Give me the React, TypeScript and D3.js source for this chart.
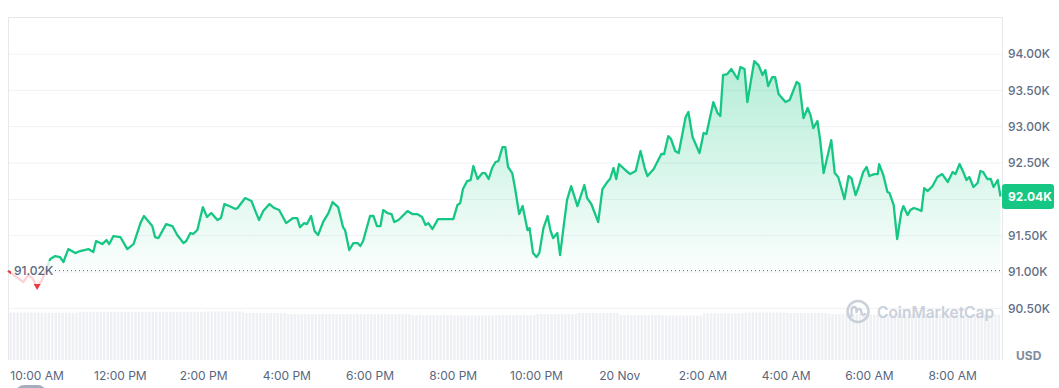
import { useMemo } from "react";
import * as d3 from "d3";

// minutes relative to 10:00 AM, 19 Nov
const minutes = [
  -42, -32, -20, -13, -7, 0, 7, 19, 26, 33,
  38, 40, 45, 55, 62, 74, 81, 85, 94, 100,
  104, 110, 120, 130, 139, 149, 154, 166, 170, 175,
  186, 195, 202, 211, 215, 221, 225, 231, 239, 245,
  251, 260, 265, 270, 277, 286, 289, 300, 309, 317,
  320, 326, 335, 342, 349, 359, 369, 375, 379, 385,
  389, 395, 400, 405, 413, 420, 426, 434, 441, 444,
  450, 456, 462, 466, 470, 480, 485, 490, 495, 499,
  505, 511, 515, 521, 534, 541, 548, 555, 560, 564,
  570, 578, 591, 600, 606, 610, 614, 620, 625, 629,
  635, 642, 646, 651, 656, 661, 665, 671, 675, 679,
  685, 689, 695, 700, 707, 710, 715, 720, 724, 730,
  736, 740, 744, 750, 754, 759, 764, 770, 779, 789,
  793, 799, 809, 815, 822, 826, 831, 835, 839, 848,
  855, 863, 870, 876, 880, 889, 900, 904, 910, 914,
  920, 925, 932, 935, 939, 945, 955, 961, 965, 975,
  981, 985, 989, 995, 1001, 1010, 1014, 1020, 1024, 1034,
  1040, 1046, 1050, 1054, 1060, 1064, 1069, 1079, 1085, 1095,
  1099, 1105, 1111, 1115, 1119, 1125, 1129, 1134, 1145, 1150,
  1155, 1164, 1170, 1174, 1180, 1184, 1191, 1196, 1200, 1207,
  1212, 1214, 1220, 1226, 1229, 1235, 1240, 1246, 1249, 1255,
  1259, 1264, 1269, 1275, 1279, 1284, 1291, 1298, 1305, 1313,
  1320, 1324, 1330, 1336, 1340, 1344, 1350, 1356, 1360, 1364,
  1370, 1375, 1379, 1385, 1389
];

const prices = [
  91020, 90945, 90862, 90959, 90917, 90794, 90890, 91179, 91220, 91206,
  91138, 91193, 91316, 91261, 91289, 91316, 91275, 91427, 91385, 91440,
  91385, 91495, 91482, 91316, 91385, 91674, 91771, 91633, 91482, 91468,
  91660, 91633, 91509, 91399, 91427, 91537, 91523, 91578, 91894, 91757,
  91812, 91716, 91743, 91936, 91908, 91867, 91881, 92018, 91977, 91784,
  91716, 91839, 91936, 91881, 91853, 91674, 91743, 91743, 91619, 91674,
  91660, 91771, 91564, 91509, 91702, 91812, 91963, 91894, 91619, 91578,
  91303, 91399, 91399, 91358, 91427, 91771, 91771, 91633, 91633, 91853,
  91812, 91798, 91688, 91716, 91839, 91798, 91798, 91757, 91647, 91674,
  91592, 91729, 91729, 91729, 91922, 91949, 92142, 92252, 92266, 92459,
  92280, 92362, 92362, 92280, 92431, 92514, 92527, 92720, 92720, 92445,
  92362, 92156, 91798, 91908, 91578, 91605, 91261, 91206, 91261, 91605,
  91771, 91578, 91468, 91537, 91234, 91619, 91991, 92183, 91908, 92197,
  92018, 91936, 91688, 92142, 92238, 92280, 92431, 92280, 92486, 92404,
  92348, 92390, 92665, 92431, 92321, 92417, 92624, 92624, 92871, 92830,
  92665, 92637, 92981, 93133, 93202, 92858, 92637, 92913, 92899, 93339,
  93188, 93147, 93711, 93724, 93793, 93656, 93821, 93793, 93339, 93903,
  93848, 93711, 93780, 93559, 93683, 93683, 93449, 93339, 93367, 93614,
  93587, 93119, 93257, 93160, 92981, 93078, 92816, 92362, 92816, 92362,
  92307, 92004, 92321, 92293, 92060, 92156, 92376, 92445, 92321, 92348,
  92348, 92486, 92335, 92101, 92087, 91922, 91454, 91826, 91908, 91784,
  91853, 91881, 91867, 91839, 92156, 92115, 92183, 92307, 92348, 92238,
  92376, 92348, 92486, 92362, 92266, 92307, 92170, 92225, 92390, 92376,
  92280, 92280, 92170, 92266, 92040
];

// hourly volume buckets (B USD), starting 9:00 AM 19 Nov
const hourlyVolume = [
  95.0, 94.6, 96.0, 96.0, 96.0, 97.0, 94.0, 92.0, 92.0, 92.0,
  90.0, 89.0, 90.0, 92.0, 94.0, 90.0, 89.0, 93.4, 95.0, 94.0,
  92.0, 91.0, 91.0, 91.0, 91.0
];

const priceTicks = [90500, 91000, 91500, 92000, 92500, 93000, 93500, 94000];
const openPrice = 91020;
const lastPrice = 92040;

const W = 1059;
const H = 388;
const left = 8;
const right = 1002;
const top = 17;
const bottom = 360;
const GREEN = "#16c784";
const RED = "#ea3943";
const FONT = "Inter, 'Noto Sans', sans-serif";

const base = new Date(2024, 10, 19, 10, 0, 0);

interface Pt {
  t: Date;
  p: number;
}

const fmtK = (v: number) => `${(v / 1000).toFixed(2)}K`;

export default function App() {
  const points: Pt[] = useMemo(
    () => minutes.map((m, i) => ({ t: d3.timeMinute.offset(base, m), p: prices[i] })),
    []
  );

  const x = d3
    .scaleTime()
    .domain(d3.extent(points, (d) => d.t) as [Date, Date])
    .range([8, 1000.5]);
  const y = d3.scaleLinear().domain([90500, 94000]).range([308.4, 54]);
  const vy = d3.scaleLinear().domain([0, 100]).range([bottom, 310]);

  const baseY = y(openPrice);
  const lastY = y(lastPrice);
  const line = d3
    .line<Pt>()
    .x((d) => x(d.t))
    .y((d) => y(d.p));
  const area = d3
    .area<Pt>()
    .x((d) => x(d.t))
    .y0(baseY)
    .y1((d) => y(d.p));

  const maxP = d3.max(points, (d) => d.p) ?? 0;
  const low = points.reduce((a, b) => (b.p < a.p ? b : a));

  // volume bars, one per 5 minutes, taking the value of the hour bucket
  const [t0, t1] = x.domain();
  const volStart = new Date(2024, 10, 19, 9, 0, 0);
  const slots = d3.timeMinute.every(5)!.range(t0, t1);
  const bars = slots.map((s) => {
    const hour = Math.floor((+s - +volStart) / 3600000);
    const v = hourlyVolume[Math.min(hour, hourlyVolume.length - 1)];
    const x0 = x(s);
    const x1 = Math.min(x(d3.timeMinute.offset(s, 5)), 1001);
    return { x0, w: Math.max(0.5, x1 - x0 - 1), v };
  });

  const xTicks = d3.timeHour.every(2)!.range(t0, t1);
  const fmtTime = d3.timeFormat("%-I:%M %p");
  const tickLabel = (d: Date) => (d.getHours() === 0 ? d3.timeFormat("%-d %b")(d) : fmtTime(d));

  // the last-price badge hides the tick label it sits on
  const shownTicks = priceTicks.filter((v) => Math.abs(y(v) - lastY) > 14);

  return (
    <svg
      width={W}
      height={H}
      style={{ position: "absolute", left: 0, top: 0, background: "#fff" }}
      fontFamily={FONT}
    >
      <defs>
        <linearGradient id="gUp" gradientUnits="userSpaceOnUse" x1="0" x2="0" y1={y(maxP)} y2={baseY}>
          <stop offset="0" stopColor={GREEN} stopOpacity={0.32} />
          <stop offset="1" stopColor={GREEN} stopOpacity={0.02} />
        </linearGradient>
        <linearGradient id="gDown" gradientUnits="userSpaceOnUse" x1="0" x2="0" y1={baseY} y2={y(low.p)}>
          <stop offset="0" stopColor={RED} stopOpacity={0.02} />
          <stop offset="1" stopColor={RED} stopOpacity={0.2} />
        </linearGradient>
        <clipPath id="cUp">
          <rect x={0} y={0} width={W} height={baseY} />
        </clipPath>
        <clipPath id="cDown">
          <rect x={0} y={baseY} width={W} height={H - baseY} />
        </clipPath>
      </defs>

      {/* volume */}
      <g>
        {bars.map((b, i) => (
          <rect key={i} x={b.x0} y={vy(b.v)} width={b.w} height={bottom - vy(b.v)} fill="#eef0f4" />
        ))}
      </g>

      {/* grid */}
      {priceTicks.map((v) => (
        <line key={v} x1={left} x2={right} y1={y(v)} y2={y(v)} stroke="#eff2f5" strokeWidth={1} />
      ))}
      <line x1={left} x2={right} y1={top + 0.5} y2={top + 0.5} stroke="#e6e8ec" />
      <line x1={left + 0.5} x2={left + 0.5} y1={top} y2={bottom} stroke="#e6e8ec" />
      <line x1={right + 0.5} x2={right + 0.5} y1={top} y2={bottom} stroke="#e6e8ec" />

      {/* watermark */}
      <g opacity={0.9}>
        <circle cx={858} cy={311.5} r={10.5} fill="none" stroke="#c6ccd7" strokeWidth={2.6} />
        <path
          d="M851.5,316 L851.5,311 Q851.5,307 854,307 Q856.5,307 856.5,311 L856.5,313 Q856.5,309 859,309 Q861.5,309 861.5,313 Q862,316 865,314"
          fill="none"
          stroke="#c6ccd7"
          strokeWidth={2.3}
          strokeLinecap="round"
        />
        <text x={877} y={317.5} fontSize={15.5} fontWeight={600} fill="#c6ccd7">
          CoinMarketCap
        </text>
      </g>

      {/* areas and line */}
      <path d={area(points) ?? ""} fill="url(#gUp)" clipPath="url(#cUp)" />
      <path d={area(points) ?? ""} fill="url(#gDown)" clipPath="url(#cDown)" />
      <path d={line(points) ?? ""} fill="none" stroke={GREEN} strokeWidth={2.3} strokeLinejoin="round" clipPath="url(#cUp)" />
      <path d={line(points) ?? ""} fill="none" stroke={RED} strokeWidth={2.3} strokeLinejoin="round" clipPath="url(#cDown)" />

      {/* open price reference */}
      <line
        x1={55}
        x2={right}
        y1={baseY}
        y2={baseY}
        stroke="#58667e"
        strokeWidth={1}
        strokeDasharray="1 3"
      />
      <rect x={11} y={261} width={41} height={30} fill="#fff" opacity={0.78} />
      <text x={14} y={baseY} dy="0.35em" fontSize={12} fontWeight={500} fill="#58667e">
        {fmtK(openPrice)}
      </text>
      <path
        d={`M${x(low.t) - 3.5},${y(low.p) - 3} L${x(low.t) + 3.5},${y(low.p) - 3} L${x(low.t)},${y(low.p) + 3} Z`}
        fill={RED}
      />

      {/* y axis */}
      {shownTicks.map((v) => (
        <text key={v} x={1008} y={y(v)} dy="0.35em" fontSize={12} fontWeight={500} fill="#616e85">
          {fmtK(v)}
        </text>
      ))}
      <rect x={1002} y={lastY - 12.5} width={52} height={25} rx={3} fill={GREEN} />
      <text x={1008} y={lastY} dy="0.35em" fontSize={12} fontWeight={700} fill="#fff">
        {fmtK(lastPrice)}
      </text>
      <text x={1016} y={356} dy="0.35em" fontSize={12} fontWeight={700} fill="#808a9d">
        USD
      </text>

      {/* x axis */}
      {xTicks.map((d) => (
        <text key={+d} x={x(d)} y={376} dy="0.35em" textAnchor="middle" fontSize={12} fill="#58667e">
          {tickLabel(d)}
        </text>
      ))}

      <rect x={16} y={385} width={30} height={16} rx={8} fill="#a6adbe" />
    </svg>
  );
}
